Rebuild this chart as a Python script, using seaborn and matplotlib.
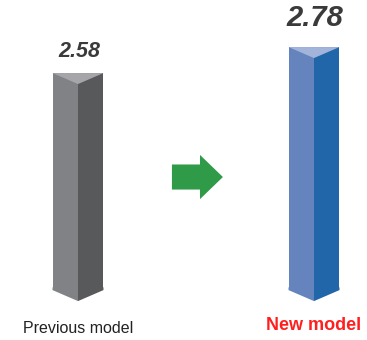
import seaborn as sns
import matplotlib.pyplot as plt
import matplotlib.patches as mpatches
import pandas as pd

models = ["Previous model", "New model"]
scores = [2.58, 2.78]
base = 0.91  # value where the prisms start

left_colors = ["#818286", "#6584be"]
right_colors = ["#58595b", "#2066a8"]
top_colors = ["#a6a6aa", "#a3b4da"]
label_colors = ["#222222", "#ff1f1f"]

rows = []
for m, s in zip(models, scores):
    for face in ["left", "right"]:
        rows.append({"model": m, "face": face, "height": s - base})
df = pd.DataFrame(rows)

sns.set_style("white")
plt.rcParams['font.family'] = ['Liberation Sans', 'DejaVu Sans']

fig = plt.figure(figsize=(3.67, 3.4), dpi=100)
ax = fig.add_axes([0, 0, 1, 1])

sns.barplot(data=df, x="model", y="height", hue="face", order=models,
            hue_order=["left", "right"], width=0.216, gap=0, dodge=True,
            bottom=base, errorbar=None, legend=False, saturation=1,
            linewidth=0, ax=ax)

ymin, ymax = 0.526, 3.142
ax.set_xlim(-0.3305, 1.2246)
ax.set_ylim(ymin, ymax)
ax.axis("off")

# slant of the prism faces, 11 px
dy = 11 / (340 / (ymax - ymin))
eps = dy / 4  # small overlap to hide seams

for j in range(len(models)):
    lp = ax.containers[0][j]
    rp = ax.containers[1][j]
    lp.set_facecolor(left_colors[j])
    rp.set_facecolor(right_colors[j])
    L = lp.get_x()
    C = L + lp.get_width()
    R = rp.get_x() + rp.get_width()
    top = lp.get_y() + lp.get_height()
    bot = lp.get_y()
    ax.add_patch(mpatches.Polygon([(L, top), (R, top), (C, top - dy)],
                                  closed=True, facecolor=top_colors[j],
                                  edgecolor="none", zorder=5))
    ax.add_patch(mpatches.Polygon([(L, bot + eps), (C, bot + eps),
                                   (C, bot - dy), (L, bot)],
                                  closed=True, facecolor=left_colors[j],
                                  edgecolor="none", zorder=5))
    ax.add_patch(mpatches.Polygon([(C, bot + eps), (R, bot + eps),
                                   (R, bot), (C, bot - dy)],
                                  closed=True, facecolor=right_colors[j],
                                  edgecolor="none", zorder=5))

# value labels
ax.annotate(f"{scores[0]:.2f}", (0, scores[0]), xytext=(1, 8),
            textcoords="offset points", ha="center", va="bottom",
            fontsize=15.5, fontweight="bold", fontstyle="italic", color="#3a3a3a")
ax.annotate(f"{scores[1]:.2f}", (1, scores[1]), xytext=(1, 11),
            textcoords="offset points", ha="center", va="bottom",
            fontsize=21, fontweight="bold", fontstyle="italic", color="#3a3a3a")

# model names
ax.text(0, 0.611, models[0], ha="center", va="center", fontsize=11.5,
        color=label_colors[0])
ax.text(1, 0.634, models[1], ha="center", va="center", fontsize=13,
        fontweight="bold", color=label_colors[1])

# green arrow between the bars
ax.add_patch(mpatches.FancyArrow(0.398, 1.78, 0.216, 0, width=0.193,
                                 head_width=0.34, head_length=0.097,
                                 length_includes_head=True,
                                 facecolor="#2f9a48", edgecolor="none"))

fig.savefig("out.png", dpi=100)
